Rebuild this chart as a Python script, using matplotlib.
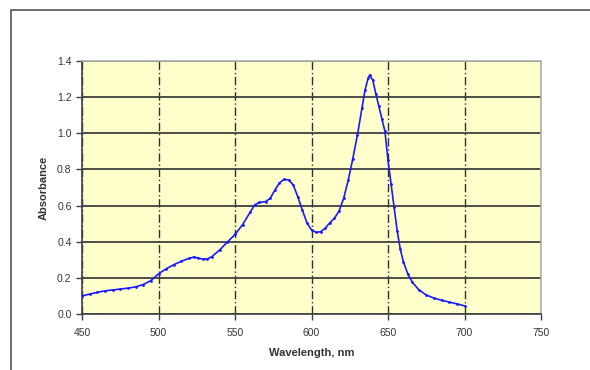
import matplotlib.pyplot as plt
from matplotlib.patches import Rectangle

# absorbance spectrum
wavelength = [450, 455, 460, 465, 470, 475, 480, 485, 490, 495,
              500, 505, 510, 515, 520, 523, 526, 529, 532, 535,
              540, 545, 550, 555, 560, 563, 566, 570, 573, 576,
              579, 582, 585, 588, 591, 594, 597, 600, 603, 606,
              609, 612, 615, 618, 621, 624, 627, 630, 633, 635,
              637, 638, 640, 642, 644, 646, 648, 650, 652, 654,
              656, 658, 660, 663, 666, 670, 675, 680, 685, 690,
              695, 700]
absorbance = [0.100, 0.110, 0.120, 0.128, 0.133, 0.138, 0.143, 0.150, 0.163, 0.185,
              0.222, 0.250, 0.273, 0.292, 0.308, 0.315, 0.310, 0.303, 0.305, 0.318,
              0.355, 0.398, 0.440, 0.495, 0.565, 0.605, 0.617, 0.622, 0.640, 0.685,
              0.725, 0.745, 0.742, 0.715, 0.650, 0.575, 0.505, 0.465, 0.452, 0.455,
              0.475, 0.505, 0.530, 0.570, 0.640, 0.740, 0.860, 0.990, 1.140, 1.240,
              1.305, 1.322, 1.295, 1.220, 1.150, 1.080, 1.010, 0.850, 0.720, 0.590,
              0.460, 0.360, 0.290, 0.220, 0.175, 0.135, 0.105, 0.088, 0.076, 0.066,
              0.056, 0.045]

x_ticks = [450, 500, 550, 600, 650, 700, 750]
y_ticks = [0.0, 0.2, 0.4, 0.6, 0.8, 1.0, 1.2, 1.4]

plt.rcParams['font.family'] = ['Liberation Sans', 'DejaVu Sans']

fig = plt.figure(figsize=(5.9, 3.7), dpi=100)
fig.patch.set_facecolor('white')

# outer chart frame, cut off at right and bottom like the original
fig.patches.append(Rectangle((11 / 590, -0.1), 1.2, 1 - 10 / 370 + 0.1,
                             transform=fig.transFigure, fill=False,
                             edgecolor='#555555', linewidth=1.2))

ax = fig.add_axes([82 / 590, 1 - 314 / 370, (541 - 82) / 590, (314 - 61) / 370])
ax.set_facecolor('#ffffcc')

ax.plot(wavelength, absorbance, color='#1a1aff', linewidth=1.2,
        marker='o', markersize=1.0, zorder=3)

ax.set_xlim(450, 750)
ax.set_ylim(0, 1.4)
ax.set_xticks(x_ticks)
ax.set_yticks(y_ticks)
ax.set_yticklabels([f'{v:.1f}' for v in y_ticks])

ax.grid(axis='y', color='#404040', linewidth=1.3, linestyle='-')
ax.grid(axis='x', color='#303030', linewidth=1.0, linestyle=(0, (6, 2, 1, 2)))
ax.set_axisbelow(True)

for side in ['left', 'bottom']:
    ax.spines[side].set_color('#404040')
    ax.spines[side].set_linewidth(1.2)
for side in ['top', 'right']:
    ax.spines[side].set_color('#b0b0b0')
    ax.spines[side].set_linewidth(1.2)

ax.tick_params(axis='both', direction='out', length=4, width=1,
               colors='#404040', labelsize=7.5, labelcolor='#333333')
ax.tick_params(axis='x', pad=6)

ax.set_xlabel('Wavelength, nm', fontsize=8, fontweight='bold', color='#333333', labelpad=7)
ax.set_ylabel('Absorbance', fontsize=8, fontweight='bold', color='#333333', labelpad=6)

fig.savefig('out.png', dpi=100)
